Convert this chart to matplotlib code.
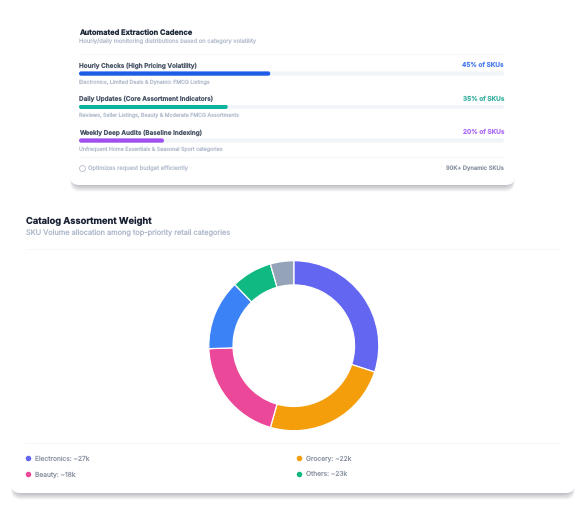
import matplotlib
matplotlib.use("Agg")
import matplotlib.pyplot as plt
from matplotlib.patches import FancyBboxPatch

plt.rcParams['font.family'] = ['Inter', 'DejaVu Sans']
plt.rcParams['text.hinting'] = 'no_hinting'
plt.rcParams['text.hinting_factor'] = 1

W, H = 585, 505

# ====== Data ======
cadence_labels = ["Hourly Checks (High Pricing Volatility)",
                  "Daily Updates (Core Assortment Indicators)",
                  "Weekly Deep Audits (Baseline Indexing)"]
cadence_notes = ["Electronics, Limited Deals & Dynamic FMCG Listings",
                 "Reviews, Seller Listings, Beauty & Moderate FMCG Assortments",
                 "Unfrequent Home Essentials & Seasonal Sport categories"]
cadence_share = [45, 35, 20]
cadence_colors = ["#1d5ce6", "#0db39e", "#a24ff0"]
cadence_text_colors = ["#4f7ff0", "#3fb3a3", "#b06ff8"]

donut_values = [27, 22, 18, 12, 7, 4]
donut_colors = ["#6366f1", "#f59e0b", "#ec4899", "#3b82f6", "#10b981", "#94a3b8"]

legend_labels = ["Electronics: ~27k", "Grocery: ~22k", "Beauty: ~18k", "Others: ~23k"]
legend_colors = ["#6366f1", "#f59e0b", "#ec4899", "#10b981"]

fig = plt.figure(figsize=(W / 100, H / 100), dpi=100, facecolor="white")

# page layer in pixel coordinates
page = fig.add_axes([0, 0, 1, 1])
page.set_xlim(0, W)
page.set_ylim(H, 0)
page.axis("off")


def card(x0, y0, x1, y1):
    # soft shadow, stays inside the card sides so only the bottom shows
    for i in range(12):
        grow = (12 - i) * 0.55
        s = FancyBboxPatch((x0 + 3 - grow * 0.4, y1 - 30), x1 - x0 - 6 + grow * 0.8, 30 + grow,
                           boxstyle="round,pad=0,rounding_size=9",
                           fc="#0f172a", ec="none", alpha=0.024, zorder=1)
        page.add_patch(s)
    c = FancyBboxPatch((x0, y0), x1 - x0, y1 - y0,
                       boxstyle="round,pad=0,rounding_size=9",
                       fc="white", ec="none", zorder=2)
    page.add_patch(c)


def txt(x, y, s, size, color, weight="normal", ha="left"):
    page.text(x, y + 0.5, s, fontsize=size, color=color, fontweight=weight,
              ha=ha, va="center", zorder=5)


card(70, 5, 515, 185)
card(11, 195, 575, 493)

# ====== Cadence card ======
txt(79, 32, "Automated Extraction Cadence", 5.35, "#1e293b", "bold")
txt(79, 41.7, "Hourly/daily monitoring distributions based on category volatility", 4.2, "#b4bece")
page.plot([79, 504], [54.3, 54.3], color="#f5f7fa", lw=0.7, zorder=3)

label_y = [65, 98.3, 132]
track_x0, track_x1 = 79, 504
for i in range(3):
    txt(79, label_y[i], cadence_labels[i], 4.6, "#4a5568", "semibold")
    txt(504, label_y[i], f"{cadence_share[i]}% of SKUs", 4.65, cadence_text_colors[i], "semibold", ha="right")
    txt(79, label_y[i] + 16.7, cadence_notes[i], 3.82, "#b4bece")
    ax = fig.add_axes([track_x0 / W, 1 - (label_y[i] + 10.7) / H,
                       (track_x1 - track_x0) / W, 4.3 / H], zorder=3)
    ax.set_xlim(0, 100)
    ax.set_ylim(0, 1)
    ax.axis("off")
    ax.add_patch(FancyBboxPatch((0, 0), 100, 1, boxstyle="round,pad=0,rounding_size=0.5",
                                fc="#f1f5f9", ec="none"))
    ax.add_patch(FancyBboxPatch((0, 0), cadence_share[i], 1, boxstyle="round,pad=0,rounding_size=0.5",
                                fc=cadence_colors[i], ec="none"))

page.plot([79, 504], [157, 157], color="#f5f7fa", lw=0.7, zorder=3)
page.plot([82.3], [168], marker="o", ms=4.3, mfc="none", mec="#b4bece", mew=0.6, zorder=5)
txt(88.3, 168, "Optimizes request budget efficiently", 4.2, "#b4bece")
txt(504, 168, "90K+ Dynamic SKUs", 4.2, "#8b94a3", "medium", ha="right")

# ====== Catalog card ======
txt(26, 220.7, "Catalog Assortment Weight", 6.7, "#1a2233", "bold")
txt(26, 232.7, "SKU Volume allocation among top-priority retail categories", 5.3, "#adb8cb")
page.plot([26, 560], [249.3, 249.3], color="#f5f7fa", lw=0.7, zorder=3)

cx, cy, r = 293.8, 345.7, 85
dax = fig.add_axes([(cx - r) / W, 1 - (cy + r) / H, 2 * r / W, 2 * r / H], zorder=3)
dax.pie(donut_values, colors=donut_colors, startangle=90, counterclock=False, radius=1,
        wedgeprops=dict(width=0.285, edgecolor="white", linewidth=0.9))
dax.set_xlim(-1, 1)
dax.set_ylim(-1, 1)

page.plot([26, 560], [442.5, 442.5], color="#f5f7fa", lw=0.7, zorder=3)
legend_x = [28.3, 299.3, 28.3, 299.3]
legend_y = [458.3, 458.3, 474, 474]
for i in range(4):
    page.plot([legend_x[i]], [legend_y[i]], marker="o", ms=4.0, color=legend_colors[i], mew=0, zorder=5)
    txt(legend_x[i] + 6.7, legend_y[i], legend_labels[i], 4.8, "#8b94a3")

fig.savefig("out.png", dpi=100, facecolor="white")
